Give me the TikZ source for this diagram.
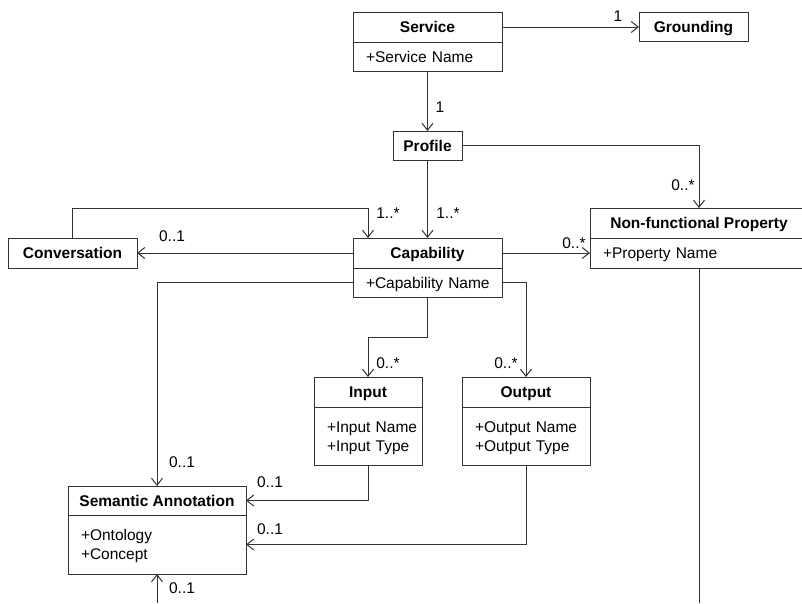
\documentclass[tikz,border=0pt]{standalone}
\usepackage{fontspec}
\setmainfont{Liberation Sans}
\usetikzlibrary{positioning,arrows.meta}

\definecolor{linec}{RGB}{51,51,51}
\newcommand{\umlsize}{\fontsize{15.5pt}{19pt}\selectfont}

\tikzset{
  clsbox/.style={draw=linec, line width=1pt, outer sep=0pt, inner sep=0pt,
    minimum height=30pt, font=\umlsize\bfseries, text height=11pt, text depth=0pt},
  attrbox/.style={draw=linec, line width=1pt, outer sep=0pt, inner xsep=0pt, inner ysep=0pt,
    text width=#1, align=left, text height=11pt, text depth=0pt,
    execute at begin node={\leftskip=13pt}},
  assoc/.style={draw=linec, line width=1pt, -{Straight Barb[length=7pt,width=11pt]}},
  mult/.style={inner sep=0pt, text height=11pt, text depth=0pt}
}

\begin{document}
\begin{tikzpicture}[x=1pt,y=-1pt,font=\umlsize]
    \useasboundingbox (0,0) rectangle (802,603);
    \clip (0,0) rectangle (802,603);

    % classes
    \node[clsbox, minimum width=149pt] (serv) at (427.5,27) {Service};
    \node[attrbox=149pt, minimum height=29pt, below=0pt of serv] (servattr) {+Service Name};
    \node[clsbox, minimum width=109pt, minimum height=29pt] (grd) at (693.5,27) {Grounding};
    \node[clsbox, minimum width=69pt, minimum height=29pt] (prof) at (427.5,145.5) {Profile};

    \node[clsbox, minimum width=218pt] (nfp) at (699,223) {Non-functional Property};
    \node[attrbox=218pt, below=0pt of nfp, minimum height=30pt] (nfpattr) {+Property Name};

    \node[clsbox, minimum width=149pt] (cap) at (427.5,253) {Capability};
    \node[attrbox=149pt, minimum height=29pt, below=0pt of cap] (capattr) {+Capability Name};
    \node[clsbox, minimum width=129pt] (conv) at (72.5,253) {Conversation};

    \node[clsbox, minimum width=108pt] (inp) at (368,392) {Input};
    \node[attrbox=108pt, minimum height=58pt, text depth=19pt, below=0pt of inp] (inpattr) {+Input Name\\+Input Type};
    \node[clsbox, minimum width=128pt] (outp) at (526,392) {Output};
    \node[attrbox=128pt, minimum height=58pt, text depth=19pt, below=0pt of outp] (outattr) {+Output Name\\+Output Type};

    \node[clsbox, minimum width=178pt, minimum height=29pt] (sem) at (157,500.5) {Semantic Annotation};
    \node[attrbox=178pt, minimum height=59pt, text depth=19pt, below=0pt of sem] (semattr) {+Ontology\\+Concept};

    \coordinate (nfpend) at (699,603);
    \coordinate (semfoot) at (157,603);

    % associations
    \draw[assoc] (serv.east) -- (grd.west);
    \draw[assoc] (servattr.south) -- (prof.north);
    \draw[assoc] (prof.east) -| (nfp.north);
    \draw[assoc] (prof.south) -- (cap.north);
    \draw[assoc] (conv.north) -- ++(0,-30) -| ([xshift=15pt]cap.north west);
    \draw[assoc] (cap.west) -- (conv.east);
    \draw[assoc] (cap.east) -- (cap.east -| nfpattr.west);
    \draw[assoc] (capattr.west) -| (sem.north);
    \draw[assoc] (capattr.south) -- ++(0,40) -| (inp.north);
    \draw[assoc] (capattr.east) -| (outp.north);
    \draw[assoc] (inpattr.south) |- (sem.east);
    \draw[assoc] (outattr.south) |- (semattr.east);
    \draw[linec, line width=1pt] (nfpattr.south) -- (nfpend);
    \draw[assoc] (semfoot) -- (semattr.south);

    % multiplicities
    \node[mult] (mgrd) at (618,16) {1};
    \node[mult] (mprof) at (440,107) {1};
    \node[mult] (mnfp) at (683,185) {0..*};
    \node[mult] (mloop) at (388,213) {1..*};
    \node[mult] (mcap) at (448,213) {1..*};
    \node[mult] (mconv) at (172,236) {0..1};
    \node[mult] (mprop) at (574,243) {0..*};
    \node[mult] (minp) at (388,363) {0..*};
    \node[mult] (mout) at (506,363) {0..*};
    \node[mult] (msem) at (182,462) {0..1};
    \node[mult] (minsem) at (270,482) {0..1};
    \node[mult] (moutsem) at (270,529) {0..1};
    \node[mult] (mfoot) at (182,588) {0..1};

\end{tikzpicture}
\end{document}
